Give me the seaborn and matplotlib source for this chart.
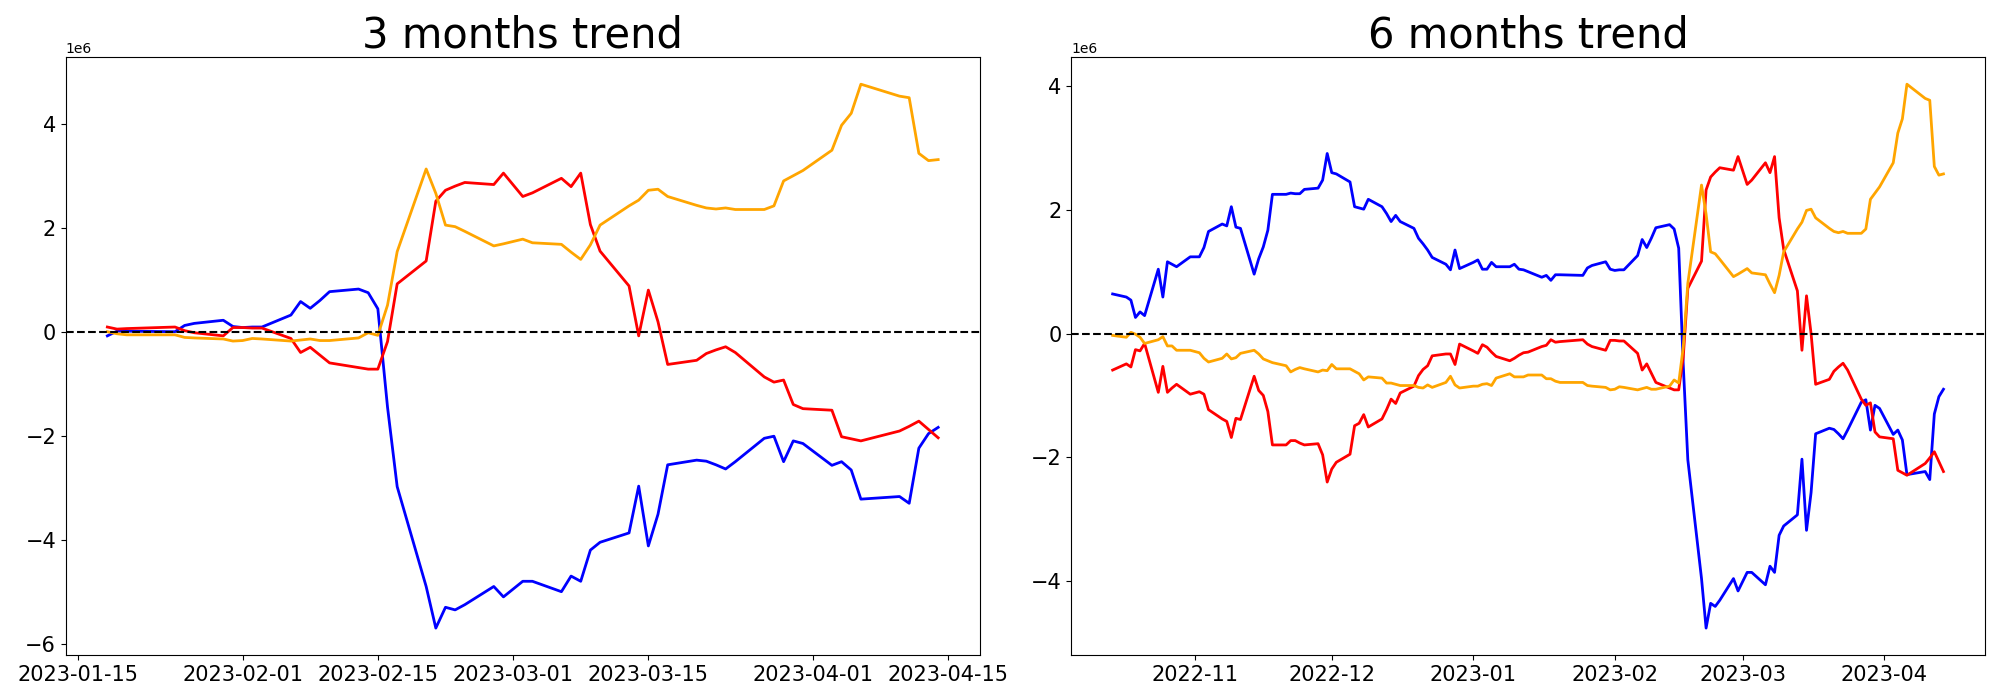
import matplotlib

matplotlib.use("Agg")
import matplotlib.pyplot as plt
import pandas as pd
import seaborn as sns

# ---------------------------------------------------------------
# 3 months window (values in millions)
# ---------------------------------------------------------------
left_dates = [
    "2023-01-18", "2023-01-19", "2023-01-20", "2023-01-25", "2023-01-26", "2023-01-27",
    "2023-01-30", "2023-01-31", "2023-02-01", "2023-02-02", "2023-02-03", "2023-02-06",
    "2023-02-07", "2023-02-08", "2023-02-09", "2023-02-10", "2023-02-13", "2023-02-14",
    "2023-02-15", "2023-02-16", "2023-02-17", "2023-02-20", "2023-02-21", "2023-02-22",
    "2023-02-23", "2023-02-24", "2023-02-27", "2023-02-28", "2023-03-02", "2023-03-03",
    "2023-03-06", "2023-03-07", "2023-03-08", "2023-03-09", "2023-03-10", "2023-03-13",
    "2023-03-14", "2023-03-15", "2023-03-16", "2023-03-17", "2023-03-20", "2023-03-21",
    "2023-03-22", "2023-03-23", "2023-03-24", "2023-03-27", "2023-03-28", "2023-03-29",
    "2023-03-30", "2023-03-31", "2023-04-03", "2023-04-04", "2023-04-05", "2023-04-06",
    "2023-04-10", "2023-04-11", "2023-04-12", "2023-04-13", "2023-04-14",
]
left_blue = [
    -0.08, 0.01, 0.01, 0.00, 0.12, 0.16, 0.22, 0.10, 0.08, 0.09, 0.09, 0.32,
    0.58, 0.45, 0.60, 0.77, 0.82, 0.75, 0.44, -1.45, -2.98, -4.90, -5.70, -5.30,
    -5.35, -5.25, -4.90, -5.10, -4.80, -4.80, -5.00, -4.70, -4.80, -4.20, -4.05, -3.87,
    -2.97, -4.12, -3.51, -2.56, -2.47, -2.49, -2.56, -2.64, -2.50, -2.05, -2.01, -2.50,
    -2.10, -2.15, -2.57, -2.50, -2.66, -3.22, -3.17, -3.30, -2.24, -1.96, -1.84,
]
left_red = [
    0.09, 0.05, 0.06, 0.09, 0.02, -0.02, -0.08, 0.08, 0.08, 0.07, 0.07, -0.13,
    -0.40, -0.30, -0.45, -0.60, -0.69, -0.72, -0.72, -0.19, 0.92, 1.36, 2.51, 2.72,
    2.80, 2.87, 2.83, 3.05, 2.60, 2.67, 2.95, 2.79, 3.05, 2.06, 1.55, 0.88,
    -0.08, 0.80, 0.19, -0.63, -0.55, -0.42, -0.35, -0.29, -0.40, -0.87, -0.97, -0.93,
    -1.40, -1.48, -1.51, -2.02, -2.06, -2.10, -1.91, -1.82, -1.72, -1.88, -2.04,
]
left_orange = [
    0.00, -0.04, -0.06, -0.06, -0.11, -0.12, -0.14, -0.18, -0.17, -0.13, -0.14, -0.18,
    -0.16, -0.14, -0.17, -0.17, -0.12, -0.02, -0.07, 0.51, 1.54, 3.13, 2.66, 2.05,
    2.02, 1.93, 1.65, 1.69, 1.78, 1.71, 1.68, 1.53, 1.39, 1.67, 2.05, 2.42,
    2.53, 2.72, 2.74, 2.60, 2.43, 2.38, 2.36, 2.38, 2.35, 2.35, 2.42, 2.90,
    3.00, 3.10, 3.49, 3.97, 4.20, 4.76, 4.53, 4.50, 3.43, 3.29, 3.31,
]

# ---------------------------------------------------------------
# 6 months window (values in millions)
# ---------------------------------------------------------------
right_dates = [
    "2022-10-14", "2022-10-17", "2022-10-18", "2022-10-19", "2022-10-20", "2022-10-21",
    "2022-10-24", "2022-10-25", "2022-10-26", "2022-10-27", "2022-10-28", "2022-10-31",
    "2022-11-02", "2022-11-03", "2022-11-04", "2022-11-07", "2022-11-08", "2022-11-09",
    "2022-11-10", "2022-11-11", "2022-11-14", "2022-11-15", "2022-11-16", "2022-11-17",
    "2022-11-18", "2022-11-21", "2022-11-22", "2022-11-23", "2022-11-24", "2022-11-25",
    "2022-11-28", "2022-11-29", "2022-11-30", "2022-12-01", "2022-12-02", "2022-12-05",
    "2022-12-06", "2022-12-07", "2022-12-08", "2022-12-09", "2022-12-12", "2022-12-13",
    "2022-12-14", "2022-12-15", "2022-12-16", "2022-12-19", "2022-12-20", "2022-12-21",
    "2022-12-22", "2022-12-23", "2022-12-26", "2022-12-27", "2022-12-28", "2022-12-29",
    "2023-01-01", "2023-01-02", "2023-01-03", "2023-01-04", "2023-01-05", "2023-01-06",
    "2023-01-09", "2023-01-10", "2023-01-11", "2023-01-12", "2023-01-13", "2023-01-16",
    "2023-01-17",
] + left_dates
right_blue = [
    0.64, 0.59, 0.54, 0.26, 0.35, 0.29, 1.04, 0.59, 1.16, 1.12, 1.08, 1.24,
    1.24, 1.39, 1.65, 1.77, 1.74, 2.05, 1.72, 1.70, 0.96, 1.21, 1.40, 1.67,
    2.25, 2.25, 2.27, 2.26, 2.26, 2.33, 2.35, 2.48, 2.91, 2.60, 2.58, 2.45,
    2.05, 2.03, 2.01, 2.17, 2.05, 1.94, 1.81, 1.91, 1.81, 1.70, 1.54, 1.45,
    1.35, 1.23, 1.12, 1.03, 1.35, 1.05, 1.15, 1.19, 1.04, 1.04, 1.15, 1.08,
    1.08, 1.12, 1.04, 1.03, 1.00, 0.91, 0.94,
    0.86, 0.95, 0.95, 0.94, 1.06, 1.10, 1.16, 1.04, 1.02, 1.03, 1.03, 1.26,
    1.52, 1.39, 1.54, 1.71, 1.76, 1.69, 1.38, -0.51, -2.04, -3.96, -4.76, -4.36,
    -4.41, -4.31, -3.96, -4.16, -3.86, -3.86, -4.06, -3.76, -3.86, -3.26, -3.11, -2.93,
    -2.03, -3.18, -2.57, -1.62, -1.53, -1.55, -1.62, -1.70, -1.56, -1.11, -1.07, -1.56,
    -1.16, -1.21, -1.63, -1.56, -1.72, -2.28, -2.23, -2.36, -1.30, -1.02, -0.90,
]
right_red = [
    -0.59, -0.49, -0.54, -0.26, -0.28, -0.16, -0.95, -0.53, -0.95, -0.88, -0.82, -0.98,
    -0.94, -0.98, -1.23, -1.38, -1.42, -1.68, -1.37, -1.39, -0.69, -0.92, -1.00, -1.26,
    -1.80, -1.80, -1.73, -1.73, -1.77, -1.80, -1.78, -1.96, -2.40, -2.19, -2.08, -1.95,
    -1.49, -1.45, -1.31, -1.51, -1.38, -1.23, -1.06, -1.13, -0.96, -0.85, -0.68, -0.58,
    -0.52, -0.36, -0.33, -0.33, -0.50, -0.17, -0.28, -0.32, -0.18, -0.22, -0.30, -0.37,
    -0.44, -0.40, -0.35, -0.31, -0.30, -0.21, -0.19,
    -0.10, -0.14, -0.13, -0.10, -0.17, -0.21, -0.27, -0.11, -0.11, -0.12, -0.12, -0.32,
    -0.59, -0.49, -0.64, -0.79, -0.88, -0.91, -0.91, -0.38, 0.73, 1.17, 2.32, 2.53,
    2.61, 2.68, 2.64, 2.86, 2.41, 2.48, 2.76, 2.60, 2.86, 1.87, 1.36, 0.69,
    -0.27, 0.61, 0.00, -0.82, -0.74, -0.61, -0.54, -0.48, -0.59, -1.06, -1.16, -1.12,
    -1.59, -1.67, -1.70, -2.21, -2.25, -2.29, -2.10, -2.01, -1.91, -2.07, -2.23,
]
right_orange = [
    -0.03, -0.06, 0.02, -0.01, -0.06, -0.16, -0.10, -0.05, -0.20, -0.20, -0.27, -0.27,
    -0.31, -0.40, -0.46, -0.40, -0.33, -0.41, -0.39, -0.32, -0.27, -0.33, -0.41, -0.44,
    -0.47, -0.52, -0.62, -0.58, -0.55, -0.57, -0.62, -0.59, -0.60, -0.50, -0.57, -0.57,
    -0.61, -0.65, -0.75, -0.70, -0.72, -0.80, -0.80, -0.82, -0.84, -0.84, -0.87, -0.88,
    -0.83, -0.87, -0.79, -0.69, -0.83, -0.88, -0.85, -0.85, -0.82, -0.81, -0.84, -0.72,
    -0.65, -0.70, -0.70, -0.70, -0.67, -0.67, -0.73,
    -0.73, -0.77, -0.79, -0.79, -0.84, -0.85, -0.87, -0.91, -0.90, -0.86, -0.87, -0.91,
    -0.89, -0.87, -0.90, -0.90, -0.85, -0.75, -0.80, -0.22, 0.81, 2.40, 1.93, 1.32,
    1.29, 1.20, 0.92, 0.96, 1.05, 0.98, 0.95, 0.80, 0.66, 0.94, 1.32, 1.69,
    1.80, 1.99, 2.01, 1.87, 1.70, 1.65, 1.63, 1.65, 1.62, 1.62, 1.69, 2.17,
    2.27, 2.37, 2.76, 3.24, 3.47, 4.03, 3.80, 3.77, 2.70, 2.56, 2.58,
]

colors = {"blue": "blue", "red": "red", "orange": "orange"}


def to_long(dates, blue, red, orange):
    df = pd.DataFrame({
        "date": pd.to_datetime(dates),
        "blue": blue,
        "red": red,
        "orange": orange,
    })
    df = df.melt(id_vars="date", var_name="series", value_name="value")
    df["value"] = df["value"] * 1e6
    return df


panels = [
    ("3 months trend", to_long(left_dates, left_blue, left_red, left_orange)),
    ("6 months trend", to_long(right_dates, right_blue, right_red, right_orange)),
]

fig, axes = plt.subplots(1, 2, figsize=(20, 7))
for ax, (title, df) in zip(axes, panels):
    sns.lineplot(
        data=df, x="date", y="value", hue="series",
        hue_order=["blue", "red", "orange"], palette=colors,
        linewidth=2, legend=False, ax=ax,
    )
    ax.axhline(0, color="black", linestyle="--", linewidth=1.5)
    ax.set_title(title, fontsize=30)
    ax.set_xlabel("")
    ax.set_ylabel("")
    ax.tick_params(labelsize=15)

plt.tight_layout()
fig.savefig("out.png", dpi=100)
plt.close(fig)
